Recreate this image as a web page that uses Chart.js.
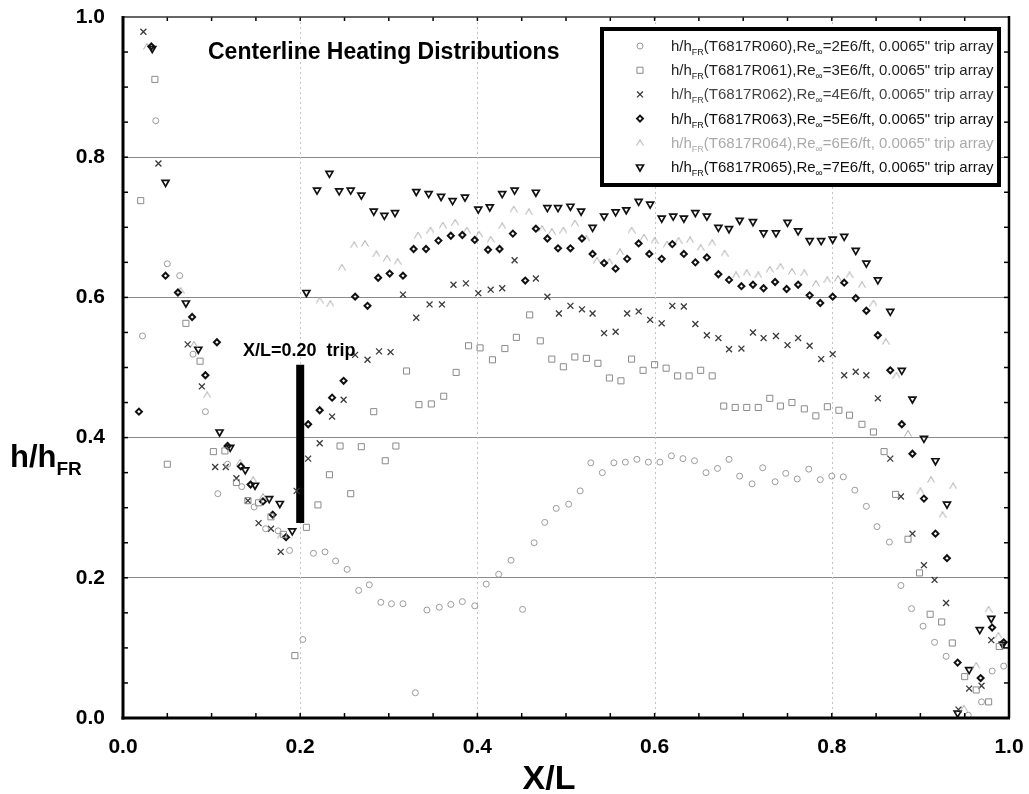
<!DOCTYPE html>
<html>
<head>
<meta charset="utf-8">
<title>Centerline Heating Distributions</title>
<script src="https://cdn.jsdelivr.net/npm/chart.js@4.4.0/dist/chart.umd.min.js"></script>
<style>
    html, body { margin: 0; padding: 0; background: #fff; }
    #js--wrap { width: 1029px; height: 794px; }
</style>
</head>
<body>
<div id="js--wrap"><canvas id="js--chart" width="1029" height="794"></canvas></div>
<script>
// [X/L, h/hFR]
const r060 = [[0.022,0.545],[0.037,0.852],[0.050,0.648],[0.064,0.631],[0.079,0.519],[0.093,0.437],[0.107,0.320],[0.118,0.362],[0.134,0.330],[0.148,0.301],[0.161,0.270],[0.175,0.267],[0.188,0.239],[0.203,0.112],[0.215,0.235],[0.228,0.237],[0.240,0.224],[0.253,0.212],[0.266,0.182],[0.278,0.190],[0.291,0.165],[0.303,0.163],[0.316,0.163],[0.330,0.036],[0.343,0.154],[0.357,0.158],[0.370,0.162],[0.383,0.166],[0.397,0.160],[0.410,0.191],[0.424,0.205],[0.438,0.225],[0.451,0.155],[0.464,0.250],[0.476,0.279],[0.489,0.299],[0.503,0.305],[0.516,0.324],[0.528,0.364],[0.541,0.350],[0.554,0.364],[0.567,0.365],[0.580,0.369],[0.593,0.365],[0.606,0.365],[0.619,0.374],[0.632,0.370],[0.645,0.367],[0.658,0.350],[0.671,0.356],[0.684,0.369],[0.696,0.345],[0.710,0.334],[0.722,0.357],[0.736,0.337],[0.748,0.349],[0.761,0.341],[0.774,0.355],[0.787,0.340],[0.800,0.345],[0.813,0.344],[0.826,0.325],[0.839,0.302],[0.851,0.273],[0.865,0.251],[0.878,0.189],[0.890,0.156],[0.903,0.131],[0.916,0.108],[0.929,0.088],[0.954,0.004],[0.969,0.023],[0.981,0.067],[0.994,0.074]];
const r061 = [[0.020,0.738],[0.036,0.911],[0.050,0.362],[0.071,0.563],[0.087,0.509],[0.102,0.380],[0.115,0.381],[0.128,0.336],[0.141,0.310],[0.153,0.307],[0.167,0.287],[0.181,0.262],[0.194,0.089],[0.207,0.272],[0.220,0.304],[0.233,0.347],[0.245,0.388],[0.257,0.320],[0.269,0.387],[0.283,0.437],[0.296,0.367],[0.308,0.388],[0.320,0.495],[0.334,0.447],[0.348,0.448],[0.362,0.459],[0.376,0.493],[0.390,0.531],[0.403,0.528],[0.417,0.511],[0.431,0.527],[0.444,0.543],[0.459,0.575],[0.471,0.538],[0.484,0.512],[0.497,0.501],[0.510,0.515],[0.523,0.513],[0.536,0.506],[0.549,0.485],[0.562,0.481],[0.574,0.512],[0.587,0.496],[0.600,0.504],[0.613,0.499],[0.626,0.488],[0.639,0.488],[0.652,0.496],[0.665,0.488],[0.678,0.445],[0.691,0.443],[0.704,0.443],[0.717,0.443],[0.730,0.456],[0.742,0.445],[0.755,0.450],[0.769,0.441],[0.782,0.431],[0.795,0.444],[0.808,0.439],[0.820,0.432],[0.834,0.419],[0.847,0.408],[0.859,0.380],[0.872,0.319],[0.886,0.255],[0.899,0.207],[0.911,0.148],[0.924,0.137],[0.936,0.107],[0.950,0.059],[0.963,0.040],[0.977,0.023],[0.989,0.102]];
const r062 = [[0.023,0.979],[0.040,0.791],[0.073,0.533],[0.089,0.473],[0.104,0.358],[0.116,0.358],[0.128,0.342],[0.141,0.310],[0.153,0.278],[0.167,0.270],[0.178,0.237],[0.196,0.324],[0.209,0.370],[0.222,0.392],[0.236,0.430],[0.249,0.454],[0.262,0.518],[0.276,0.511],[0.289,0.523],[0.302,0.522],[0.316,0.604],[0.331,0.571],[0.346,0.590],[0.360,0.590],[0.373,0.618],[0.387,0.620],[0.401,0.606],[0.415,0.611],[0.428,0.613],[0.442,0.653],[0.466,0.627],[0.479,0.601],[0.492,0.577],[0.505,0.588],[0.518,0.583],[0.530,0.577],[0.543,0.549],[0.556,0.551],[0.569,0.577],[0.582,0.580],[0.595,0.568],[0.608,0.563],[0.620,0.588],[0.633,0.587],[0.646,0.562],[0.659,0.546],[0.672,0.542],[0.684,0.526],[0.698,0.527],[0.711,0.550],[0.723,0.542],[0.737,0.545],[0.750,0.532],[0.762,0.542],[0.775,0.531],[0.788,0.512],[0.801,0.519],[0.814,0.489],[0.827,0.494],[0.839,0.489],[0.852,0.456],[0.866,0.370],[0.878,0.316],[0.891,0.263],[0.904,0.218],[0.916,0.197],[0.929,0.164],[0.943,0.012],[0.955,0.042],[0.969,0.046],[0.980,0.111]];
const r063 = [[0.018,0.437],[0.032,0.958],[0.048,0.631],[0.062,0.607],[0.078,0.572],[0.093,0.489],[0.106,0.536],[0.118,0.388],[0.133,0.359],[0.144,0.333],[0.158,0.309],[0.169,0.290],[0.184,0.258],[0.209,0.419],[0.222,0.439],[0.236,0.457],[0.249,0.481],[0.262,0.601],[0.276,0.588],[0.288,0.628],[0.301,0.634],[0.316,0.631],[0.328,0.669],[0.342,0.669],[0.356,0.681],[0.370,0.688],[0.383,0.689],[0.397,0.682],[0.412,0.668],[0.425,0.669],[0.440,0.691],[0.454,0.624],[0.466,0.698],[0.479,0.684],[0.491,0.670],[0.505,0.670],[0.518,0.684],[0.530,0.662],[0.543,0.649],[0.556,0.641],[0.569,0.655],[0.582,0.677],[0.594,0.662],[0.608,0.655],[0.620,0.676],[0.633,0.662],[0.646,0.650],[0.659,0.657],[0.672,0.633],[0.684,0.625],[0.698,0.616],[0.711,0.618],[0.723,0.613],[0.736,0.622],[0.749,0.612],[0.762,0.618],[0.775,0.603],[0.787,0.592],[0.801,0.601],[0.814,0.621],[0.827,0.599],[0.839,0.581],[0.852,0.546],[0.866,0.496],[0.879,0.419],[0.891,0.377],[0.904,0.313],[0.917,0.263],[0.930,0.228],[0.942,0.079],[0.968,0.057],[0.981,0.129],[0.994,0.108]];
const r064 = [[0.027,0.958],[0.065,0.610],[0.080,0.533],[0.095,0.461],[0.132,0.365],[0.147,0.340],[0.158,0.316],[0.178,0.260],[0.222,0.596],[0.234,0.591],[0.247,0.643],[0.261,0.675],[0.273,0.677],[0.286,0.662],[0.298,0.656],[0.310,0.651],[0.333,0.689],[0.347,0.696],[0.361,0.703],[0.375,0.707],[0.388,0.696],[0.402,0.690],[0.415,0.683],[0.428,0.702],[0.441,0.726],[0.458,0.722],[0.473,0.698],[0.484,0.694],[0.497,0.696],[0.510,0.706],[0.523,0.684],[0.535,0.653],[0.549,0.651],[0.561,0.665],[0.574,0.696],[0.588,0.686],[0.600,0.681],[0.614,0.676],[0.627,0.681],[0.640,0.682],[0.652,0.671],[0.665,0.678],[0.679,0.663],[0.692,0.632],[0.704,0.635],[0.717,0.632],[0.730,0.640],[0.742,0.644],[0.755,0.637],[0.769,0.635],[0.782,0.620],[0.795,0.625],[0.807,0.627],[0.820,0.632],[0.834,0.618],[0.847,0.592],[0.861,0.537],[0.873,0.489],[0.886,0.406],[0.900,0.324],[0.912,0.340],[0.925,0.290],[0.937,0.331],[0.949,0.014],[0.963,0.075],[0.977,0.155],[0.988,0.118]];
const r065 = [[0.033,0.955],[0.048,0.764],[0.071,0.592],[0.085,0.526],[0.109,0.408],[0.121,0.386],[0.138,0.354],[0.149,0.332],[0.165,0.313],[0.177,0.306],[0.191,0.267],[0.207,0.607],[0.219,0.753],[0.233,0.777],[0.244,0.752],[0.257,0.753],[0.269,0.746],[0.283,0.723],[0.295,0.717],[0.307,0.721],[0.331,0.751],[0.345,0.748],[0.359,0.744],[0.372,0.738],[0.386,0.743],[0.401,0.726],[0.414,0.729],[0.428,0.748],[0.442,0.753],[0.466,0.750],[0.479,0.728],[0.491,0.728],[0.505,0.730],[0.517,0.723],[0.530,0.700],[0.543,0.716],[0.556,0.722],[0.568,0.725],[0.582,0.737],[0.595,0.733],[0.608,0.713],[0.621,0.716],[0.633,0.713],[0.646,0.721],[0.659,0.716],[0.672,0.700],[0.684,0.698],[0.696,0.710],[0.711,0.708],[0.723,0.692],[0.737,0.692],[0.750,0.707],[0.762,0.695],[0.775,0.681],[0.788,0.681],[0.801,0.683],[0.814,0.687],[0.827,0.667],[0.839,0.649],[0.852,0.625],[0.866,0.580],[0.879,0.496],[0.891,0.455],[0.904,0.399],[0.917,0.367],[0.930,0.305],[0.942,0.007],[0.955,0.069],[0.967,0.126],[0.980,0.142],[0.993,0.105]];

// trip location marker
const tripX = [0.2, 0.2];
const tripY = [0.278, 0.504];

const runIds = ["T6817R060", "T6817R061", "T6817R062", "T6817R063", "T6817R064", "T6817R065"];
const reynolds = ["2E6", "3E6", "4E6", "5E6", "6E6", "7E6"];
const xTickValues = [0, 0.2, 0.4, 0.6, 0.8, 1.0];
const yTickValues = [0, 0.2, 0.4, 0.6, 0.8, 1.0];
const minorTickValues = [0.05, 0.1, 0.15, 0.25, 0.3, 0.35, 0.45, 0.5, 0.55, 0.65, 0.7, 0.75, 0.85, 0.9, 0.95];

const FONT = "'Liberation Sans', Arial, Helvetica, sans-serif";
const legendTextColors = ["#222", "#222", "#444", "#111", "#aaa", "#111"];

const toPoints = arr => arr.map(([x, y]) => ({ x: x, y: y }));

// open caret "^" marker like the plotter used
const makeCaret = (color) => {
    const c = document.createElement("canvas");
    c.width = 8;
    c.height = 7;
    const g = c.getContext("2d");
    g.strokeStyle = color;
    g.lineWidth = 1;
    g.beginPath();
    g.moveTo(0.5, 6.5);
    g.lineTo(4, 0.5);
    g.lineTo(7.5, 6.5);
    g.stroke();
    return c;
};

const marker = (data, style, color, radius, width, rotation) => ({
    data: toPoints(data),
    pointStyle: style,
    pointRadius: radius,
    pointHoverRadius: radius,
    pointBorderColor: color,
    pointBackgroundColor: "rgba(0,0,0,0)",
    pointBorderWidth: width,
    pointRotation: rotation || 0,
    showLine: false
});

const datasets = [
    marker(r060, "circle", "#9a9a9a", 3, 1),
    marker(r061, "rect", "#8a8a8a", 4.3, 1),
    marker(r062, "crossRot", "#3a3a3a", 4.2, 1.3),
    marker(r063, "rectRot", "#111", 3, 2),
    marker(r064, makeCaret("#aaa"), "#aaa", 4, 1),
    marker(r065, "triangle", "#111", 4, 1.7, 180),
    {
        data: tripX.map((x, i) => ({ x: x, y: tripY[i] })),
        showLine: true,
        borderColor: "#000",
        borderWidth: 8,
        borderCapStyle: "butt",
        pointRadius: 0
    }
];

const drawRuns = (ctx, x, y, runs, color) => {
    let cx = x;
    runs.forEach(r => {
        ctx.font = (r.bold ? "bold " : "") + r.size + "px " + FONT;
        ctx.fillStyle = color;
        ctx.fillText(r.text, cx, y + (r.dy || 0));
        cx += ctx.measureText(r.text).width;
    });
};

const line = (ctx, x1, y1, x2, y2) => {
    ctx.beginPath();
    ctx.moveTo(x1, y1);
    ctx.lineTo(x2, y2);
    ctx.stroke();
};

const decorPlugin = {
    id: "decor",
    beforeDatasetsDraw(chart) {
        const { ctx, chartArea: a, scales } = chart;
        ctx.save();
        ctx.strokeStyle = "#c4c4c4";
        ctx.lineWidth = 1;
        ctx.setLineDash([2, 3]);
        xTickValues.slice(1, -1).forEach(v => {
            const px = Math.round(scales.x.getPixelForValue(v)) + 0.5;
            line(ctx, px, a.top, px, a.bottom);
        });
        ctx.restore();
    },
    afterDatasetsDraw(chart) {
        const { ctx, chartArea: a, scales } = chart;
        ctx.save();
        ctx.strokeStyle = "#000";
        ctx.lineWidth = 1.5;
        minorTickValues.concat(xTickValues.slice(1, -1)).forEach(v => {
            const px = scales.x.getPixelForValue(v);
            const py = scales.y.getPixelForValue(v);
            line(ctx, px, a.bottom, px, a.bottom - 5);
            line(ctx, px, a.top, px, a.top + 4);
            line(ctx, a.left, py, a.left + 5, py);
            line(ctx, a.right, py, a.right - 5, py);
        });
        // frame
        ctx.lineWidth = 1.5;
        ctx.strokeStyle = "#333";
        line(ctx, a.left, a.top, a.right, a.top);
        ctx.strokeStyle = "#000";
        ctx.lineWidth = 2.5;
        line(ctx, a.right, a.top - 1, a.right, a.bottom);
        ctx.lineWidth = 3;
        line(ctx, a.left, a.top - 1, a.left, a.bottom + 1.5);
        line(ctx, a.left - 1.5, a.bottom, a.right + 1, a.bottom);
        ctx.restore();
    },
    afterDraw(chart) {
        const { ctx } = chart;
        ctx.save();
        ctx.textBaseline = "alphabetic";
        ctx.textAlign = "left";

        // title and trip note
        drawRuns(ctx, 208, 59, [{ text: "Centerline Heating Distributions", size: 23, bold: true }], "#000");
        drawRuns(ctx, 243, 356, [{ text: "X/L=0.20  trip", size: 18, bold: true }], "#000");

        // axis titles
        drawRuns(ctx, 10, 467, [
            { text: "h/h", size: 31, bold: true },
            { text: "FR", size: 19, bold: true, dy: 8 }
        ], "#000");
        ctx.textAlign = "center";
        ctx.font = "bold 34px " + FONT;
        ctx.fillStyle = "#000";
        ctx.fillText("X/L", 549, 789);
        ctx.textAlign = "left";

        // legend box
        const box = { left: 602, top: 29, right: 999, bottom: 185 };
        ctx.fillStyle = "#fff";
        ctx.fillRect(box.left, box.top, box.right - box.left, box.bottom - box.top);
        ctx.strokeStyle = "#000";
        ctx.lineWidth = 4;
        ctx.strokeRect(box.left, box.top, box.right - box.left, box.bottom - box.top);

        runIds.forEach((id, i) => {
            const ds = chart.data.datasets[i];
            const rowY = 46 + i * 24.2;
            ctx.save();
            ctx.strokeStyle = ds.pointBorderColor;
            ctx.fillStyle = "rgba(0,0,0,0)";
            ctx.lineWidth = ds.pointBorderWidth;
            Chart.helpers.drawPoint(ctx, {
                pointStyle: ds.pointStyle,
                rotation: ds.pointRotation,
                radius: ds.pointRadius,
                borderWidth: ds.pointBorderWidth
            }, 640, rowY);
            ctx.restore();
            drawRuns(ctx, 671, rowY + 5, [
                { text: "h/h", size: 15 },
                { text: "FR", size: 9, dy: 4 },
                { text: "(" + id + "),Re", size: 15 },
                { text: "\u221e", size: 10, dy: 4 },
                { text: "=" + reynolds[i] + "/ft, 0.0065\" trip array", size: 15 }
            ], legendTextColors[i]);
        });
        ctx.restore();
    }
};

const config = {
    type: "scatter",
    data: { datasets: datasets },
    options: {
        responsive: false,
        animation: false,
        events: [],
        layout: { padding: { left: 0, right: 20, top: 17, bottom: 0 } },
        plugins: {
            legend: { display: false },
            tooltip: { enabled: false }
        },
        scales: {
            x: {
                type: "linear",
                min: 0,
                max: 1,
                afterBuildTicks: scale => { scale.ticks = xTickValues.map(v => ({ value: v })); },
                afterFit: scale => {
                    scale.height = 76;
                    scale.paddingLeft = 0;
                    scale.paddingRight = 0;
                },
                ticks: {
                    color: "#000",
                    font: { family: FONT, size: 21, weight: "bold" },
                    padding: 17,
                    maxRotation: 0,
                    autoSkip: false,
                    callback: v => Number(v).toFixed(1)
                },
                grid: { display: false, drawTicks: false },
                border: { display: false }
            },
            y: {
                type: "linear",
                min: 0,
                max: 1,
                afterBuildTicks: scale => { scale.ticks = yTickValues.map(v => ({ value: v })); },
                afterFit: scale => {
                    scale.width = 123;
                    scale.paddingTop = 0;
                    scale.paddingBottom = 0;
                },
                ticks: {
                    color: "#000",
                    font: { family: FONT, size: 21, weight: "bold" },
                    padding: 18,
                    autoSkip: false,
                    callback: v => Number(v).toFixed(1)
                },
                grid: {
                    drawTicks: false,
                    lineWidth: 1,
                    color: ctx => (ctx.tick && (ctx.tick.value === 0 || ctx.tick.value === 1)) ? "rgba(0,0,0,0)" : "#8a8a8a"
                },
                border: { display: false }
            }
        }
    },
    plugins: [decorPlugin]
};

const heatingChart = new Chart(document.getElementById("js--chart"), config);
</script>
</body>
</html>
